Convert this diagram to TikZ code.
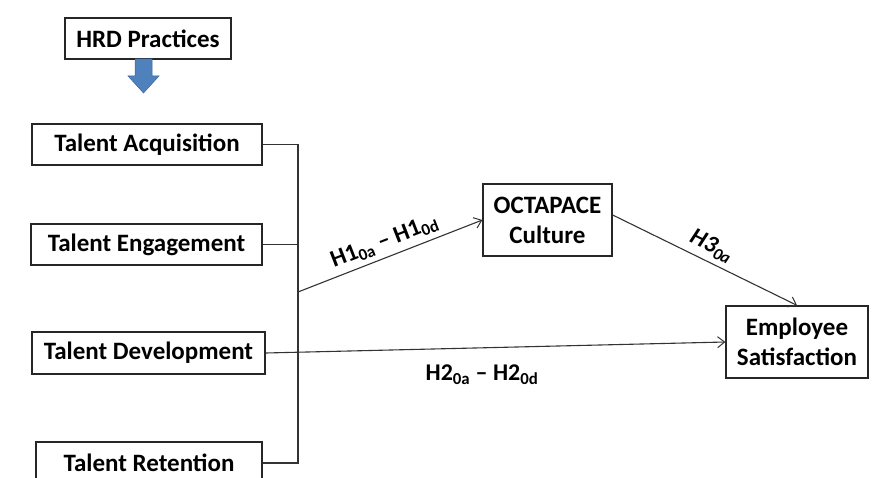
\documentclass[tikz,border=0pt]{standalone}
\usepackage{fontspec}
\setmainfont{Carlito}
\usetikzlibrary{arrows.meta}
\begin{document}
\begin{tikzpicture}[x=1pt,y=-1pt,
  box/.style={draw=black!85,line width=1.3pt,fill=white,inner sep=0pt,font=\bfseries\fontsize{25}{27}\selectfont,align=center},
  conn/.style={draw=black!80,line width=1.1pt},
  arr/.style={conn,-{Straight Barb[length=7pt,width=11pt,line width=1pt]}},
  lbl/.style={font=\bfseries\fontsize{24}{26}\selectfont,inner sep=5pt}]
\useasboundingbox (0,0) rectangle (872,478);
\node[box,minimum width=166pt,minimum height=41pt] (hrd) at (148,38.5) {HRD Practices};
\node[box,minimum width=230pt,minimum height=41pt] (ta) at (147,144.5) {Talent Acquisition};
\node[box,minimum width=231pt,minimum height=41pt] (te) at (146.5,244.5) {Talent Engagement};
\node[box,minimum width=233pt,minimum height=42pt] (td) at (148.5,353) {Talent Development};
\node[box,minimum width=226pt,minimum height=42pt] (tr) at (149,463) {Talent Retention};
\node[box,minimum width=129pt,minimum height=72pt,font=\bfseries\fontsize{25}{30}\selectfont] (oct) at (547.5,220) {OCTAPACE\\Culture};
\node[box,minimum width=142pt,minimum height=72pt,font=\bfseries\fontsize{25}{30}\selectfont] (emp) at (797,342) {Employee\\Satisfaction};
% blue arrow
\fill[fill={rgb,255:red,79;green,129;blue,189},draw={rgb,255:red,60;green,100;blue,160},line width=0.5pt]
  (135,59) -- (152,59) -- (152,76) -- (159,76) -- (143.5,93) -- (128,76) -- (135,76) -- cycle;
% connectors
\coordinate (j) at (298,292);
\draw[conn] (ta.east) -- (298,144.5) |- (tr.east);
\draw[conn] (te.east) -- (te.east -| j);
\draw[arr] (j) -- node[lbl,sloped,above] {H1\textsubscript{0a} – H1\textsubscript{0d}} (oct.west);
\draw[arr] ([yshift=5pt]oct.east) -- node[lbl,sloped,above,font=\bfseries\itshape\fontsize{24}{26}\selectfont,pos=0.5] {H3\textsubscript{0a}} (emp.north);
\draw[arr] (td.east) -- (emp.west);
\node[lbl] (h2) at (482,375) {H2\textsubscript{0a} – H2\textsubscript{0d}};
\end{tikzpicture}
\end{document}
